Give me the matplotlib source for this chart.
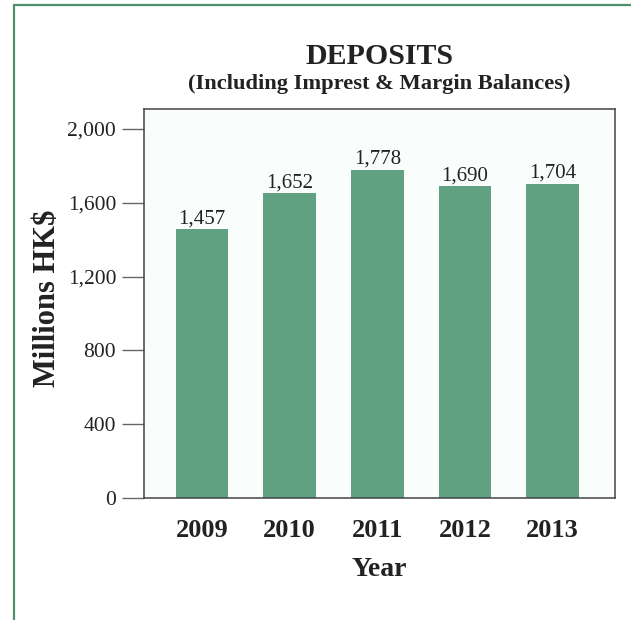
import matplotlib
matplotlib.use("Agg")
import matplotlib.pyplot as plt
from matplotlib.patches import Rectangle

years = ["2009", "2010", "2011", "2012", "2013"]
deposits = [1457, 1652, 1778, 1690, 1704]
value_labels = ["1,457", "1,652", "1,778", "1,690", "1,704"]
yticks = [0, 400, 800, 1200, 1600, 2000]
ytick_labels = ["0", "400", "800", "1,200", "1,600", "2,000"]

plt.rcParams['font.family'] = ['Liberation Serif', 'DejaVu Serif']

W, H = 631, 620
fig = plt.figure(figsize=(W / 100, H / 100), dpi=100, facecolor='white')

# green outer frame (extends past right/bottom edge, as in the scan)
fig.patches.append(Rectangle((13.5 / W, -0.05), 1.1, (H - 4.5) / H + 0.05,
                             transform=fig.transFigure, fill=False,
                             edgecolor='#4f8f6a', linewidth=1.6))

ax_left, ax_right, ax_top, ax_bottom = 144, 615, 109, 498
ax = fig.add_axes([ax_left / W, (H - ax_bottom) / H,
                   (ax_right - ax_left) / W, (ax_bottom - ax_top) / H])
ax.set_facecolor('#f9fdfc')
x = range(len(years))
ax.bar(x, deposits, width=0.6, color='#5fa181', zorder=2)
for xi, v, lab in zip(x, deposits, value_labels):
    ax.text(xi, v + 32, lab, ha='center', va='baseline', fontsize=15, color='#222222')

ax.set_xlim(-0.66, 4.71)
ax.set_ylim(0, 2108)
ax.set_xticks(list(x))
ax.set_xticklabels(years, fontsize=19, fontweight='bold', color='#222222')
ax.tick_params(axis='x', length=0, pad=15)
ax.set_yticks(yticks)
ax.set_yticklabels(ytick_labels, fontsize=15.5, color='#222222')
ax.tick_params(axis='y', direction='out', length=16, width=1, color='#666666', pad=4)
for s in ax.spines.values():
    s.set_color('#444444')
    s.set_linewidth(1.1)

ax_w = ax_right - ax_left
ax_h = ax_bottom - ax_top
ax.set_xlabel("Year", fontsize=20, fontweight='bold', color='#222222')
ax.xaxis.set_label_coords(0.5, (ax_bottom - 569) / ax_h)
ax.xaxis.label.set_verticalalignment('center')
ax.set_ylabel("Millions HK$", fontsize=22, fontweight='bold', color='#222222')
ax.yaxis.set_label_coords((48 - ax_left) / ax_w, (ax_bottom - 298) / ax_h)
ax.yaxis.label.set_verticalalignment('center')

cx = (ax_left + ax_right) / 2 / W
fig.text(cx, 1 - 57 / H, "DEPOSITS", ha='center', va='center',
         fontsize=21.5, fontweight='bold', color='#222222')
fig.text(cx, 1 - 84 / H, "(Including Imprest & Margin Balances)", ha='center',
         va='center', fontsize=16.2, fontweight='bold', color='#222222')

fig.savefig("out.png", dpi=100, facecolor='white')
